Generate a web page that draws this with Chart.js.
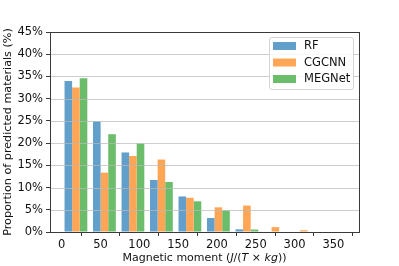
<!DOCTYPE html>
<html>
<head>
<meta charset="utf-8">
<script src="https://cdn.jsdelivr.net/npm/chart.js@4.4.0/dist/chart.umd.min.js"></script>
<style>
  html, body { margin: 0; padding: 0; background: #fff; }
  #wrap { width: 399px; height: 266px; }
</style>
</head>
<body>
<div id="wrap"><canvas id="histChart" width="399" height="266"></canvas></div>
<script>
// ── Data ──
const binCenters = [18.4, 55.1, 91.8, 128.5, 165.2, 201.9, 238.6, 275.3, 312.0, 348.7];
const rfValues     = [34.0, 24.9, 17.9, 11.7, 8.0, 3.15, 0.6, 0, 0, 0];
const cgcnnValues  = [32.5, 13.35, 17.1, 16.3, 7.7, 5.55, 5.95, 1.1, 0.4, 0];
const megnetValues = [34.6, 22.0, 19.9, 11.25, 6.9, 4.85, 0.55, 0, 0, 0];
const seriesLabels = ['RF', 'CGCNN', 'MEGNet'];
const xTicks = [0, 50, 100, 150, 200, 250, 300, 350];
const yTicks = [0, 5, 10, 15, 20, 25, 30, 35, 40, 45];
const yTitle = 'Proportion of predicted materials (%)';
// x title pieces: [text, italic?]
const xTitleParts = [['Magnetic moment (', false], ['J', true], ['/(', false], ['T', true], [' \u00d7 ', false], ['kg', true], ['))', false]];

const COLORS = ['#62a0cb', '#ffa556', '#6bbc6b'];
const FONT = 'DejaVu Sans';
const SPINE = '#3a3a3a';

const toPoints = vals => binCenters.map((x, i) => ({ x, y: vals[i] }));

// gridlines drawn above the bars, like the reference
const gridOnTop = {
  id: 'gridOnTop',
  afterDatasetsDraw(chart) {
    const { ctx, chartArea: a, scales: { y } } = chart;
    ctx.save();
    ctx.strokeStyle = 'rgba(185,185,185,0.7)';
    ctx.lineWidth = 1;
    yTicks.forEach(t => {
      if (t === 0 || t === 45) return;
      const py = Math.round(y.getPixelForValue(t)) + 0.5;
      ctx.beginPath(); ctx.moveTo(a.left, py); ctx.lineTo(a.right, py); ctx.stroke();
    });
    ctx.restore();
  }
};

// four spines, legend box, mixed-style x title
const frameAndLegend = {
  id: 'frameAndLegend',
  afterDraw(chart) {
    const { ctx, chartArea: a } = chart;
    ctx.save();
    ctx.strokeStyle = SPINE;
    ctx.lineWidth = 1;
    ctx.strokeRect(Math.round(a.left) + 0.5, Math.round(a.top) + 0.5, Math.round(a.right - a.left), Math.round(a.bottom - a.top));

    // legend
    const lx = 269.5, ly = 37.5, lw = 84, lh = 52, r = 2.5;
    ctx.beginPath();
    ctx.moveTo(lx + r, ly); ctx.lineTo(lx + lw - r, ly); ctx.arcTo(lx + lw, ly, lx + lw, ly + r, r);
    ctx.lineTo(lx + lw, ly + lh - r); ctx.arcTo(lx + lw, ly + lh, lx + lw - r, ly + lh, r);
    ctx.lineTo(lx + r, ly + lh); ctx.arcTo(lx, ly + lh, lx, ly + lh - r, r);
    ctx.lineTo(lx, ly + r); ctx.arcTo(lx, ly, lx + r, ly, r);
    ctx.closePath();
    ctx.fillStyle = 'rgba(255,255,255,0.85)';
    ctx.fill();
    ctx.strokeStyle = '#d4d4d4';
    ctx.stroke();
    ctx.font = `11.5px "${FONT}"`;
    ctx.textBaseline = 'middle';
    ctx.textAlign = 'left';
    chart.data.datasets.forEach((ds, i) => {
      const cy = 46 + i * 16.5;
      ctx.fillStyle = ds.backgroundColor;
      ctx.fillRect(273, cy - 4, 23, 8);
      ctx.fillStyle = '#111';
      ctx.fillText(ds.label, 304, cy + 0.5);
    });

    // x title
    let total = 0;
    xTitleParts.forEach(([t, it]) => { ctx.font = `${it ? 'oblique ' : ''}11px "${FONT}"`; total += ctx.measureText(t).width; });
    let x = (a.left + a.right) / 2 - total / 2;
    ctx.fillStyle = '#111';
    ctx.textBaseline = 'middle';
    xTitleParts.forEach(([t, it]) => {
      ctx.font = `${it ? 'oblique ' : ''}11px "${FONT}"`;
      ctx.fillText(t, x, 258);
      x += ctx.measureText(t).width;
    });
    ctx.restore();
  }
};

new Chart(document.getElementById('histChart'), {
  type: 'bar',
  data: {
    datasets: [
      { label: seriesLabels[0], data: toPoints(rfValues), backgroundColor: COLORS[0] },
      { label: seriesLabels[1], data: toPoints(cgcnnValues), backgroundColor: COLORS[1] },
      { label: seriesLabels[2], data: toPoints(megnetValues), backgroundColor: COLORS[2] }
    ]
  },
  options: {
    responsive: false,
    animation: false,
    layout: { padding: { left: 0, right: 40, top: 32, bottom: 0 } },
    datasets: { bar: { categoryPercentage: 0.8, barPercentage: 1.0, borderWidth: 0 } },
    plugins: { legend: { display: false }, tooltip: { enabled: false } },
    scales: {
      x: {
        type: 'linear', min: -15, max: 383, offset: false,
        afterBuildTicks: s => { s.ticks = xTicks.map(v => ({ value: v })); },
        afterFit: s => { s.height = 34; },
        ticks: { color: '#111', font: { family: FONT, size: 11.5 }, padding: 2, maxRotation: 0, callback: v => v },
        grid: { drawOnChartArea: false, tickLength: 4, tickColor: SPINE, tickWidth: 1 },
        border: { display: false }
      },
      y: {
        min: 0, max: 45,
        afterBuildTicks: s => { s.ticks = yTicks.map(v => ({ value: v })); },
        afterFit: s => { s.width = 50; },
        ticks: { color: '#111', font: { family: FONT, size: 11.5 }, padding: 3, callback: v => v + '%' },
        grid: { drawOnChartArea: false, tickLength: 4, tickColor: SPINE, tickWidth: 1 },
        border: { display: false },
        title: { display: true, text: yTitle, color: '#111', font: { family: FONT, size: 11.2 }, padding: { top: 1, bottom: 0 } }
      }
    }
  },
  plugins: [gridOnTop, frameAndLegend]
});
</script>
</body>
</html>
